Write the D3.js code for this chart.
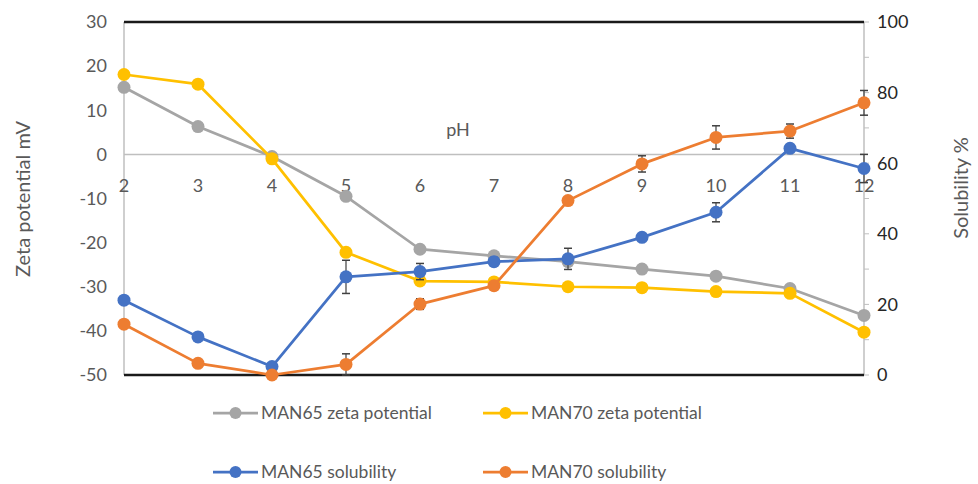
<!DOCTYPE html>
<html>
<head>
<meta charset="utf-8">
<script src="https://cdn.jsdelivr.net/npm/d3@7"></script>
<style>
  html, body { margin: 0; padding: 0; background: #fff; }
  svg { display: block; }
</style>
</head>
<body>
<svg id="chart" width="978" height="484"></svg>
<script>
// pH values on the category axis
const pH = [2, 3, 4, 5, 6, 7, 8, 9, 10, 11, 12];

// Zeta potential (mV), left axis
const man65Zeta = [15.2, 6.3, -0.5, -9.5, -21.5, -23, -24.3, -26, -27.6, -30.4, -36.5];
const man70Zeta = [18.1, 15.9, -1, -22.2, -28.7, -28.9, -30, -30.2, -31.1, -31.5, -40.3];

// Solubility (%), right axis, with error-bar half widths
const man65Sol = [21.2, 10.8, 2.4, 27.8, 29.3, 32.1, 32.9, 39, 46.1, 64.2, 58.5];
const man65Err = [0.5, 0.5, 0.5, 4.7, 2.3, 1.2, 3, 0.5, 2.7, 1, 4];
const man70Sol = [14.4, 3.3, 0, 3, 20.1, 25.3, 49.4, 59.8, 67.3, 69.1, 77.1];
const man70Err = [1, 1, 0.5, 3, 1.5, 0.8, 0.5, 2.3, 3.3, 2, 3.5];

const leftTicks = [30, 20, 10, 0, -10, -20, -30, -40, -50];
const rightTicks = [100, 80, 60, 40, 20, 0];

const svg = d3.select("#chart");
const FONT = "Lato, 'Open Sans', sans-serif";

const x = d3.scaleLinear().domain([2, 12]).range([124, 864]);
const yL = d3.scaleLinear().domain([-50, 30]).range([375, 22]);
const yR = d3.scaleLinear().domain([0, 100]).range([375, 22]);

// Left axis line and labels
svg.append("line").attr("x1", 124).attr("x2", 124).attr("y1", 22).attr("y2", 375)
  .attr("stroke", "#bfbfbf").attr("stroke-width", 1.5);
svg.selectAll(".lt").data(leftTicks).enter().append("text")
  .attr("x", 107).attr("y", d => yL(d)).attr("dy", "0.35em")
  .attr("text-anchor", "end").attr("font-family", FONT).attr("font-size", 18)
  .attr("fill", "#595959").text(d => d);

// Right axis line, minor ticks and labels
svg.append("line").attr("x1", 864).attr("x2", 864).attr("y1", 22).attr("y2", 375)
  .attr("stroke", "#bfbfbf").attr("stroke-width", 1.5);
svg.selectAll(".rtick").data(d3.range(0, 101, 10)).enter().append("line")
  .attr("x1", 864).attr("x2", 869).attr("y1", d => yR(d)).attr("y2", d => yR(d))
  .attr("stroke", "#bfbfbf").attr("stroke-width", 1);
svg.selectAll(".rt").data(rightTicks).enter().append("text")
  .attr("x", 877).attr("y", d => yR(d)).attr("dy", "0.35em")
  .attr("text-anchor", "start").attr("font-family", FONT).attr("font-size", 18)
  .attr("fill", "#262626").text(d => d);

// Frame lines top and bottom
[22, 375].forEach(yy => {
  svg.append("line").attr("x1", 124).attr("x2", 864).attr("y1", yy).attr("y2", yy)
    .attr("stroke", "#1a1a1a").attr("stroke-width", 2.5);
});

// Horizontal category axis through zero
svg.append("line").attr("x1", 124).attr("x2", 864).attr("y1", yL(0)).attr("y2", yL(0))
  .attr("stroke", "#bfbfbf").attr("stroke-width", 1.5);
svg.selectAll(".xt").data(pH).enter().append("text")
  .attr("x", d => x(d)).attr("y", yL(0) + 31).attr("dy", "0.35em")
  .attr("text-anchor", "middle").attr("font-family", FONT).attr("font-size", 18)
  .attr("fill", "#595959").text(d => d);
svg.append("text").attr("x", 458).attr("y", 130).attr("dy", "0.35em")
  .attr("text-anchor", "middle").attr("font-family", FONT).attr("font-size", 18)
  .attr("fill", "#595959").text("pH");

// Axis titles
svg.append("text").attr("transform", "translate(23,199) rotate(-90)")
  .attr("text-anchor", "middle").attr("dy", "0.35em")
  .attr("font-family", FONT).attr("font-size", 20).attr("fill", "#595959")
  .text("Zeta potential mV");
svg.append("text").attr("transform", "translate(961,188) rotate(-90)")
  .attr("text-anchor", "middle").attr("dy", "0.35em")
  .attr("font-family", FONT).attr("font-size", 20).attr("fill", "#595959")
  .text("Solubility %");

// Series
const series = [
  { name: "MAN65 zeta potential", vals: man65Zeta, y: yL, color: "#A5A5A5" },
  { name: "MAN70 zeta potential", vals: man70Zeta, y: yL, color: "#FFC000" },
  { name: "MAN65 solubility", vals: man65Sol, err: man65Err, y: yR, color: "#4472C4" },
  { name: "MAN70 solubility", vals: man70Sol, err: man70Err, y: yR, color: "#ED7D31" }
];

series.forEach(s => {
  const pts = pH.map((p, i) => [p, s.vals[i]]);
  const line = d3.line().x(d => x(d[0])).y(d => s.y(d[1]));
  const g = svg.append("g");
  g.append("path").attr("d", line(pts)).attr("fill", "none")
    .attr("stroke", s.color).attr("stroke-width", 2.75).attr("stroke-linejoin", "round");
  if (s.err) {
    pts.forEach((d, i) => {
      const e = s.err[i];
      const cx = x(d[0]);
      const y1 = s.y(d[1] - e), y2 = s.y(d[1] + e);
      g.append("line").attr("x1", cx).attr("x2", cx).attr("y1", y1).attr("y2", y2)
        .attr("stroke", "#404040").attr("stroke-width", 1.2);
      [y1, y2].forEach(yy => g.append("line").attr("x1", cx - 4).attr("x2", cx + 4)
        .attr("y1", yy).attr("y2", yy).attr("stroke", "#404040").attr("stroke-width", 1.5));
    });
  }
  g.selectAll("circle").data(pts).enter().append("circle")
    .attr("cx", d => x(d[0])).attr("cy", d => s.y(d[1])).attr("r", 6.5)
    .attr("fill", s.color);
});

// Legend
const legendPos = [[213, 413], [483, 413], [213, 472], [483, 472]];
series.forEach((s, i) => {
  const [lx, ly] = legendPos[i];
  svg.append("line").attr("x1", lx).attr("x2", lx + 45).attr("y1", ly).attr("y2", ly)
    .attr("stroke", s.color).attr("stroke-width", 2.75);
  svg.append("circle").attr("cx", lx + 22.5).attr("cy", ly).attr("r", 6).attr("fill", s.color);
  svg.append("text").attr("x", lx + 48).attr("y", ly).attr("dy", "0.35em")
    .attr("font-family", FONT).attr("font-size", 17.5).attr("fill", "#595959").text(s.name);
});
</script>
</body>
</html>
